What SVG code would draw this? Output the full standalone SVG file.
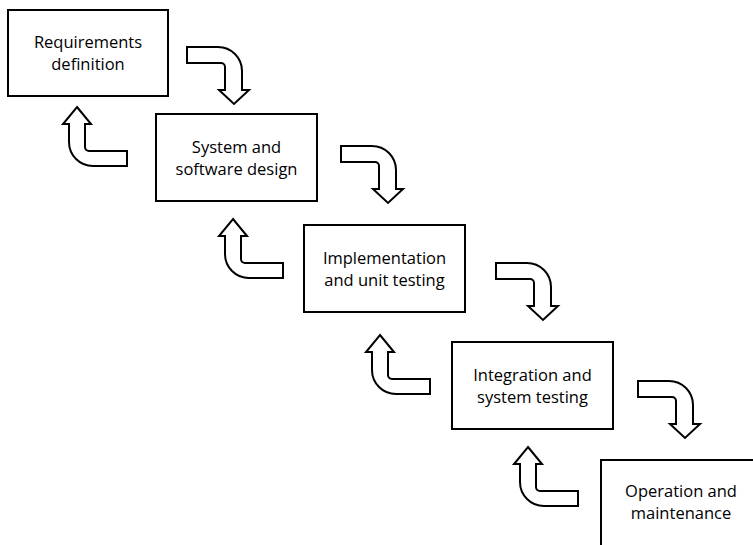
<svg xmlns="http://www.w3.org/2000/svg" xmlns:xlink="http://www.w3.org/1999/xlink" width="753" height="545" viewBox="0 0 753 545">
<style>
.box{fill:#fff;stroke:#000;stroke-width:2}
.arr{fill:#fff;stroke:#000;stroke-width:2;stroke-linejoin:miter}
.lbl{font-family:"Open Sans","Liberation Sans",sans-serif;font-size:16.5px;fill:#000;text-anchor:middle}
</style>
<defs>
<path id="down" d="M-47,-57 H-16 A24,24 0 0 1 8,-33 V-14 H15 L0,0 L-15,-14 H-9 V-37 A4,4 0 0 0 -13,-41 H-47 Z"/>
<path id="up" d="M0,0 L14,17 H8 V40 A4,4 0 0 0 12,44 H50 V59 H16 A24,24 0 0 1 -8,35 V17 H-14 Z"/>
</defs>
<rect width="753" height="545" fill="#fff"/>
<g id="connectors">
<use xlink:href="#down" class="arr" transform="translate(234,104)"/>
<use xlink:href="#down" class="arr" transform="translate(388,203)"/>
<use xlink:href="#down" class="arr" transform="translate(543,320)"/>
<use xlink:href="#down" class="arr" transform="translate(685,438)"/>
<use xlink:href="#up" class="arr" transform="translate(77,107)"/>
<use xlink:href="#up" class="arr" transform="translate(233,219)"/>
<use xlink:href="#up" class="arr" transform="translate(380,335)"/>
<use xlink:href="#up" class="arr" transform="translate(528,447)"/>
</g>
<g id="requirements">
<rect class="box" x="8" y="10" width="160" height="86"/>
<text class="lbl" x="88" y="48">Requirements</text>
<text class="lbl" x="88" y="70">definition</text>
</g>
<g id="design">
<rect class="box" x="156" y="114" width="161" height="87"/>
<text class="lbl" x="236.5" y="152.5">System and</text>
<text class="lbl" x="236.5" y="174.5">software design</text>
</g>
<g id="implementation">
<rect class="box" x="304" y="225" width="161" height="87"/>
<text class="lbl" x="384.5" y="263.5">Implementation</text>
<text class="lbl" x="384.5" y="285.5">and unit testing</text>
</g>
<g id="integration">
<rect class="box" x="452" y="342" width="161" height="87"/>
<text class="lbl" x="532.5" y="380.5">Integration and</text>
<text class="lbl" x="532.5" y="402.5">system testing</text>
</g>
<g id="operation">
<rect class="box" x="601" y="460" width="160" height="100"/>
<text class="lbl" x="681" y="497">Operation and</text>
<text class="lbl" x="681" y="519">maintenance</text>
</g>
</svg>
